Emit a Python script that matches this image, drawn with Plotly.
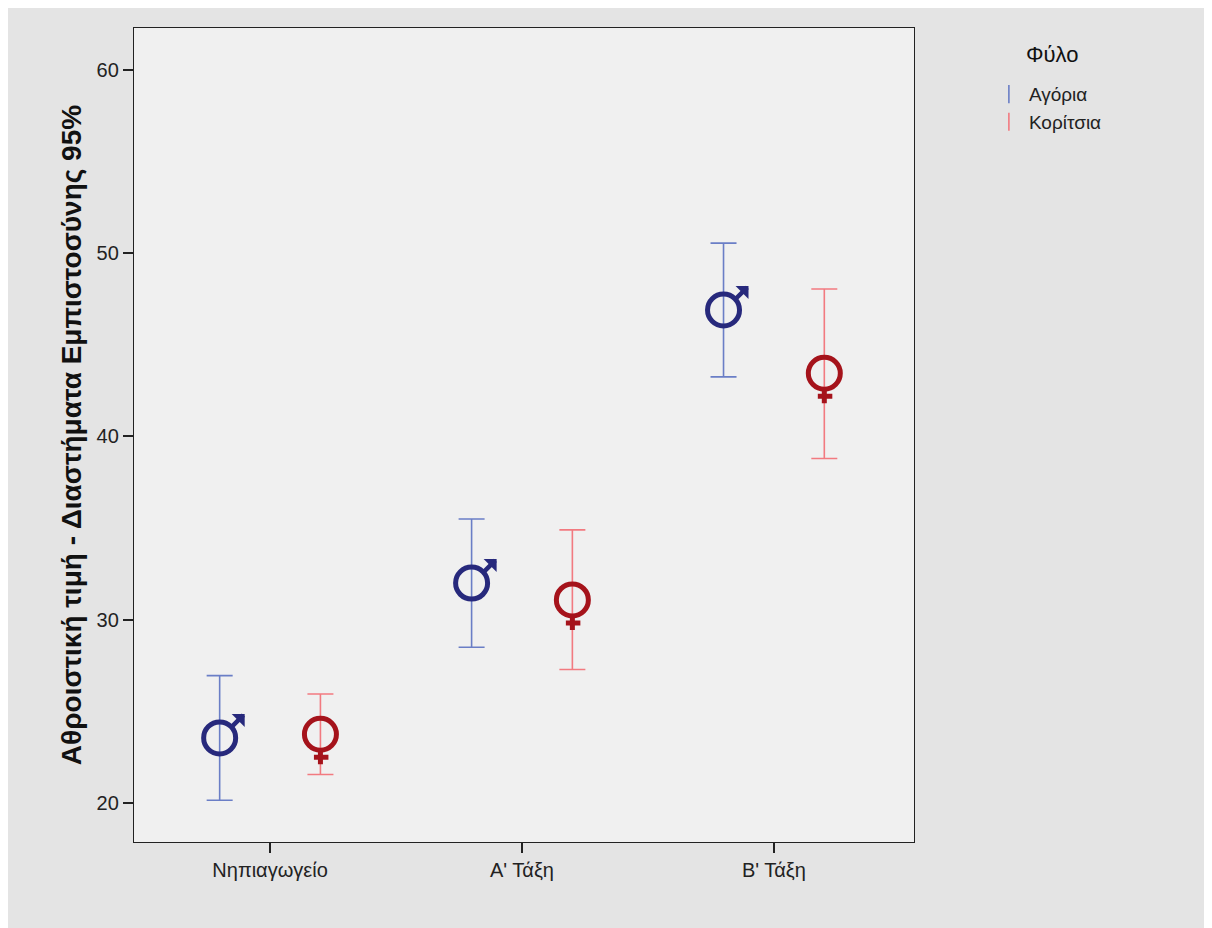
import plotly.graph_objects as go

categories = ["Νηπιαγωγείο", "Α' Τάξη", "Β' Τάξη"]
boys_mean = [23.55, 32.0, 46.9]
boys_low = [20.15, 28.5, 43.25]
boys_high = [26.95, 35.5, 50.55]
girls_mean = [23.75, 31.08, 43.45]
girls_low = [21.55, 27.28, 38.8]
girls_high = [25.95, 34.9, 48.05]
legend_title = "Φύλο"

BOY_MARK = "#27297c"
BOY_ERR = "#6a7ec6"
GIRL_MARK = "#a5131b"
GIRL_ERR = "#f27a80"
dodge = 0.2
FONT = "Liberation Sans"

fig = go.Figure()

def add_series(name, means, lows, highs, xoff, mcol, ecol):
    xs = [i + xoff for i in range(len(means))]
    fig.add_trace(go.Scatter(
        x=xs, y=means, mode="markers", showlegend=False, name=name,
        marker=dict(symbol="circle-open", size=32, color=mcol, line=dict(width=5, color=mcol)),
        error_y=dict(type="data", symmetric=False,
                     array=[h - m for h, m in zip(highs, means)],
                     arrayminus=[m - l for m, l in zip(means, lows)],
                     color=ecol, thickness=1.6, width=13),
    ))
    fig.add_trace(go.Scatter(
        x=[None], y=[None], mode="markers", name=name, showlegend=True,
        marker=dict(symbol="line-ns-open", size=13, color=ecol, line=dict(width=1.6, color=ecol)),
    ))
    return xs

bx = add_series("Αγόρια", boys_mean, boys_low, boys_high, -dodge, BOY_MARK, BOY_ERR)
gx = add_series("Κορίτσια", girls_mean, girls_low, girls_high, dodge, GIRL_MARK, GIRL_ERR)

annotations = []
# male arrow
for x, m in zip(bx, boys_mean):
    annotations.append(dict(x=x, y=m, xref="x", yref="y", text="", showarrow=True,
                            xshift=25, yshift=24, ax=-14, ay=14,
                            arrowhead=1, arrowsize=0.68, arrowwidth=4.5, arrowcolor=BOY_MARK))
# female cross
for x, m in zip(gx, girls_mean):
    annotations.append(dict(x=x, y=m, xref="x", yref="y", text="", showarrow=True,
                            xshift=0, yshift=-30, ax=0, ay=-14,
                            arrowhead=0, arrowwidth=5, arrowcolor=GIRL_MARK))
    annotations.append(dict(x=x, y=m, xref="x", yref="y", text="", showarrow=True,
                            xshift=8, yshift=-23, ax=-16, ay=0,
                            arrowhead=0, arrowwidth=5, arrowcolor=GIRL_MARK))
annotations.append(dict(x=1.177, y=0.967, xref="paper", yref="paper", text=legend_title,
                        showarrow=False, xanchor="center", yanchor="middle",
                        font=dict(size=22, color="#111111")))

fig.update_layout(
    width=1212, height=928,
    margin=dict(l=126, r=306, t=20, b=94),
    paper_bgcolor="#e4e4e4", plot_bgcolor="#f0f0f0",
    font=dict(family=FONT, size=20, color="#222222"),
    annotations=annotations,
    legend=dict(
        x=1.096, y=0.942, xanchor="left", yanchor="top",
        bgcolor="rgba(0,0,0,0)",
        font=dict(size=19, color="#222222"),
        itemwidth=30, tracegroupgap=0,
    ),
    xaxis=dict(
        range=[-0.54, 2.556], tickmode="array", tickvals=list(range(len(categories))),
        ticktext=categories, showgrid=False, zeroline=False,
        showline=True, linecolor="#222222", linewidth=1.3, mirror=True,
        ticks="outside", ticklen=10, tickwidth=1.5, tickcolor="#222222",
        tickfont=dict(size=20),
    ),
    yaxis=dict(
        range=[17.87, 62.29], tickvals=[20, 30, 40, 50, 60], showgrid=False, zeroline=False,
        showline=True, linecolor="#222222", linewidth=1.3, mirror=True,
        ticks="outside", ticklen=10, tickwidth=1.5, tickcolor="#222222",
        tickfont=dict(size=20),
        title=dict(text="<b>Αθροιστική τιμή - Διαστήματα Εμπιστοσύνης 95%</b>",
                   font=dict(size=28, color="#111111"), standoff=6),
    ),
)

fig.write_html("out.html")
